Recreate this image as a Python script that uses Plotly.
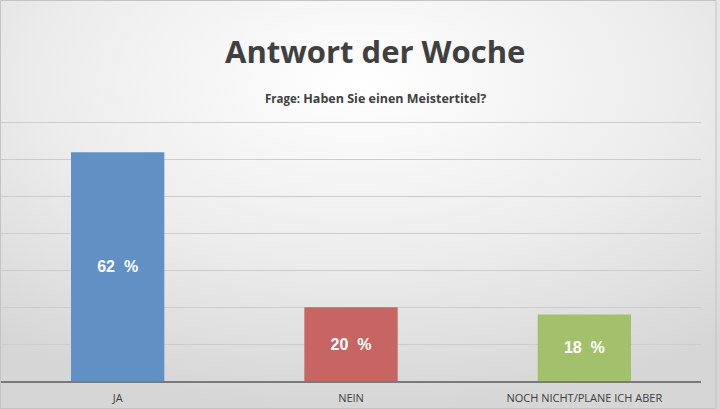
import base64
import plotly.graph_objs as go

# Data
categories = ['JA', 'NEIN', 'NOCH NICHT/PLANE ICH ABER']
percent = [62, 20, 18]
bar_colors = ['#6190c5', '#c76563', '#a3c16a']

W, H = 720, 409
ml, mr, mt, mb = 1, 19, 121, 28
pw, ph = W - ml - mr, H - mt - mb

# soft radial background as an inline svg
svg = ('<svg xmlns="http://www.w3.org/2000/svg" width="720" height="409">'
       '<defs><radialGradient id="g" cx="50%" cy="20%" r="80%">'
       '<stop offset="0" stop-color="#ffffff"/>'
       '<stop offset="0.55" stop-color="#ececec"/>'
       '<stop offset="1" stop-color="#d6d6d6"/></radialGradient></defs>'
       '<rect width="720" height="409" fill="url(#g)"/></svg>')
bg_src = 'data:image/svg+xml;base64,' + base64.b64encode(svg.encode()).decode()

data = [go.Bar(x=categories,
               y=percent,
               marker=dict(color=bar_colors, line=dict(width=0)),
               texttemplate='<b>%{y}\u00a0\u00a0%</b>',
               textposition='inside',
               insidetextanchor='middle',
               textfont=dict(family='Liberation Sans, Arial', size=16, color='white'),
               hoverinfo='skip')]

def px_x(p):
    return (p - ml) / pw

def px_y(p):
    return (H - mb - p) / ph

layout = go.Layout(width=W, height=H,
                   margin=dict(l=ml, r=mr, t=mt, b=mb),
                   paper_bgcolor='#e6e6e6',
                   plot_bgcolor='rgba(0,0,0,0)',
                   bargap=0.6,
                   showlegend=False,
                   xaxis=dict(showgrid=False, showline=True, linecolor='#7a7a7a', linewidth=1.5,
                              ticks='', ticklabelstandoff=6,
                              tickfont=dict(family='Open Sans', size=11, color='#404040')),
                   yaxis=dict(range=[0, 70.5], dtick=10, showticklabels=False, zeroline=False,
                              gridcolor='#cccccc', gridwidth=1),
                   images=[dict(source=bg_src, xref='paper', yref='paper',
                                x=px_x(0), y=px_y(0), sizex=W / pw, sizey=H / ph,
                                xanchor='left', yanchor='top', sizing='stretch', layer='below')],
                   shapes=[dict(type='rect', xref='paper', yref='paper',
                                x0=px_x(0.5), x1=px_x(716), y0=px_y(408.5), y1=px_y(0.5),
                                line=dict(color='#c4c4c4', width=1))],
                   annotations=[dict(text='<b>Antwort der Woche</b>', xref='paper', yref='paper',
                                     x=px_x(375), y=px_y(51), yanchor='middle', showarrow=False,
                                     font=dict(family='Open Sans', size=31, color='#404040')),
                                dict(text='<b><span style="font-size:11.5px">Frage:</span> Haben Sie einen Meistertitel?</b>',
                                     xref='paper', yref='paper',
                                     x=px_x(375), y=px_y(98), yanchor='middle', showarrow=False,
                                     font=dict(family='Open Sans', size=12.5, color='#404040'))])

fig = go.Figure(data=data, layout=layout)
fig.write_html('out.html', config={'displayModeBar': False},
               post_script="document.body.style.margin='0';")
